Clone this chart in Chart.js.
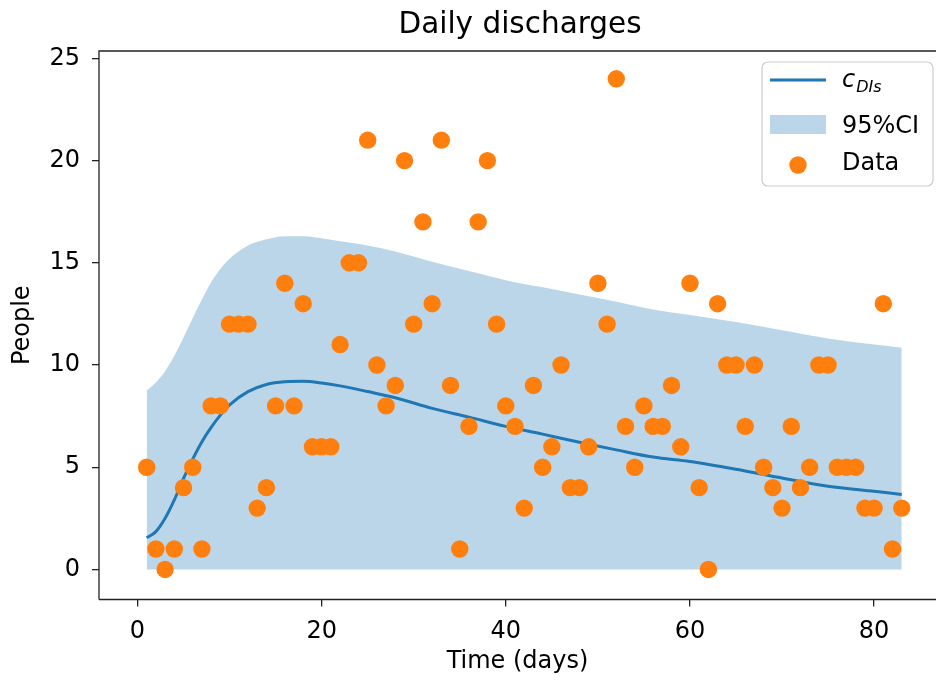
<!DOCTYPE html>
<html>
<head>
<meta charset="utf-8">
<title>Daily discharges</title>
<script src="https://cdn.jsdelivr.net/npm/chart.js@4.4.1/dist/chart.umd.min.js"></script>
<style>
  html, body { margin: 0; padding: 0; background: #fff; }
  #wrap { width: 936px; height: 682px; position: relative; }
</style>
</head>
<body>
<div id="wrap"><canvas id="chart" width="936" height="682"></canvas></div>
<script>
/* ===== Data ===== */
var days = [
   1,  2,  3,  4,  5,  6,  7,  8,  9, 10,
  11, 12, 13, 14, 15, 16, 17, 18, 19, 20,
  21, 22, 23, 24, 25, 26, 27, 28, 29, 30,
  31, 32, 33, 34, 35, 36, 37, 38, 39, 40,
  41, 42, 43, 44, 45, 46, 47, 48, 49, 50,
  51, 52, 53, 54, 55, 56, 57, 58, 59, 60,
  61, 62, 63, 64, 65, 66, 67, 68, 69, 70,
  71, 72, 73, 74, 75, 76, 77, 78, 79, 80,
  81, 82, 83
];
var discharges = [
   5,  1,  0,  1,  4,  5,  1,  8,  8, 12,
  12, 12,  3,  4,  8, 14,  8, 13,  6,  6,
   6, 11, 15, 15, 21, 10,  8,  9, 20, 12,
  17, 13, 21,  9,  1,  7, 17, 20, 12,  8,
   7,  3,  9,  5,  6, 10,  4,  4,  6, 14,
  12, 24,  7,  5,  8,  7,  7,  9,  6, 14,
   4,  0, 13, 10, 10,  7, 10,  5,  4,  3,
   7,  4,  5, 10, 10,  5,  5,  5,  3,  3,
  13,  1,  3
];

// model curve and upper 95% bound (lower bound is 0)
var modelDays = [1, 2, 3, 4, 5, 6, 7, 8, 9, 10, 12, 14, 16, 18, 20, 22, 25, 28, 32, 36, 40, 44, 48, 52, 56, 60, 65, 70, 75, 80, 83];
var modelMean = [1.55, 1.85, 2.5, 3.4, 4.45, 5.4, 6.25, 6.95, 7.55, 8.05, 8.7, 9.05, 9.18, 9.2, 9.12, 8.98, 8.7, 8.4, 7.88, 7.45, 7.0, 6.62, 6.22, 5.85, 5.5, 5.28, 4.9, 4.47, 4.07, 3.82, 3.67];
var ciUpper   = [8.75, 9.15, 9.7, 10.45, 11.35, 12.3, 13.2, 14.05, 14.7, 15.2, 15.85, 16.15, 16.3, 16.3, 16.2, 16.05, 15.85, 15.55, 15.05, 14.6, 14.15, 13.8, 13.45, 13.1, 12.72, 12.45, 12.1, 11.7, 11.3, 11.0, 10.85];

var xTicks = [0, 20, 40, 60, 80];
var yTicks = [0, 5, 10, 15, 20, 25];

/* ===== Styles ===== */
var COLORS = {
    line:  '#1f77b4',
    band:  'rgba(31,119,180,0.3)',
    dots:  '#ff7f0e',
    spine: '#222222',
    text:  '#000000'
};
var FONT_FAMILY = "'DejaVu Sans', sans-serif";
var TICK_FONT = { family: FONT_FAMILY, size: 24 };

function toPoints(xs, ys) {
    return xs.map(function (x, i) { return { x: x, y: ys[i] }; });
}

/* spines + title, drawn the matplotlib way */
var framePlugin = {
    id: 'frame',
    afterDatasetsDraw: function (chart) {
        var a = chart.chartArea, ctx = chart.ctx;
        ctx.save();
        ctx.strokeStyle = COLORS.spine;
        ctx.lineWidth = 1.3;
        ctx.beginPath();
        ctx.moveTo(a.left, a.bottom);
        ctx.lineTo(a.left, a.top);
        ctx.lineTo(a.right + 2, a.top);
        ctx.moveTo(a.left, a.bottom);
        ctx.lineTo(a.right + 2, a.bottom);
        ctx.stroke();
        ctx.fillStyle = COLORS.text;
        ctx.font = "29.5px " + FONT_FAMILY;
        ctx.textAlign = 'center';
        ctx.textBaseline = 'alphabetic';
        ctx.fillText('Daily discharges', 520, 33);
        ctx.restore();
    }
};

/* legend box with the mathtext-like c_DIs label */
var legendPlugin = {
    id: 'mplLegend',
    afterDraw: function (chart) {
        var ctx = chart.ctx;
        var bx = 762, by = 62, bw = 171, bh = 124, r = 6;
        ctx.save();
        ctx.beginPath();
        ctx.moveTo(bx + r, by);
        ctx.arcTo(bx + bw, by, bx + bw, by + bh, r);
        ctx.arcTo(bx + bw, by + bh, bx, by + bh, r);
        ctx.arcTo(bx, by + bh, bx, by, r);
        ctx.arcTo(bx, by, bx + bw, by, r);
        ctx.closePath();
        ctx.fillStyle = 'rgba(255,255,255,0.8)';
        ctx.fill();
        ctx.strokeStyle = '#cccccc';
        ctx.lineWidth = 1.2;
        ctx.stroke();

        // line sample
        ctx.strokeStyle = COLORS.line;
        ctx.lineWidth = 3;
        ctx.beginPath();
        ctx.moveTo(770, 80);
        ctx.lineTo(826, 80);
        ctx.stroke();
        // band sample
        ctx.fillStyle = COLORS.band;
        ctx.fillRect(770, 115, 56, 19);
        // dot sample
        ctx.fillStyle = COLORS.dots;
        ctx.beginPath();
        ctx.arc(798, 165, 8.7, 0, Math.PI * 2);
        ctx.fill();

        ctx.fillStyle = COLORS.text;
        ctx.textAlign = 'left';
        ctx.textBaseline = 'alphabetic';
        ctx.font = "italic 24px " + FONT_FAMILY;
        ctx.fillText('c', 842, 87);
        var cw = ctx.measureText('c').width;
        ctx.font = "italic 16px " + FONT_FAMILY;
        ctx.fillText('DIs', 842 + cw + 1, 92);
        ctx.font = "24px " + FONT_FAMILY;
        ctx.fillText('95%CI', 842, 133);
        ctx.fillText('Data', 842, 170);
        ctx.restore();
    }
};

new Chart(document.getElementById('chart'), {
    type: 'line',
    data: {
        datasets: [
            {
                label: 'Data',
                type: 'scatter',
                data: toPoints(days, discharges),
                backgroundColor: COLORS.dots,
                borderColor: COLORS.dots,
                borderWidth: 0,
                pointRadius: 8.7,
                showLine: false,
                order: 0
            },
            {
                label: 'c_DIs',
                data: toPoints(modelDays, modelMean),
                borderColor: COLORS.line,
                borderWidth: 3,
                pointRadius: 0,
                fill: false,
                cubicInterpolationMode: 'monotone',
                order: 1
            },
            {
                label: '95%CI',
                data: toPoints(modelDays, ciUpper),
                borderWidth: 0,
                borderColor: 'rgba(0,0,0,0)',
                backgroundColor: COLORS.band,
                pointRadius: 0,
                fill: 'origin',
                cubicInterpolationMode: 'monotone',
                order: 2
            }
        ]
    },
    options: {
        responsive: false,
        animation: false,
        devicePixelRatio: 1,
        layout: { autoPadding: false, padding: { top: 51, right: 0, bottom: 0, left: 0 } },
        plugins: {
            legend: { display: false },
            title: { display: false },
            tooltip: { enabled: false }
        },
        scales: {
            x: {
                type: 'linear',
                position: 'bottom',
                min: -4.18,
                max: 86.72,
                afterFit: function (s) { s.height = 82.5; },
                afterBuildTicks: function (s) { s.ticks = xTicks.map(function (v) { return { value: v }; }); },
                ticks: { font: TICK_FONT, color: COLORS.text, padding: 11, maxRotation: 0, autoSkip: false },
                grid: { display: true, drawOnChartArea: false, drawTicks: true, tickLength: 7, color: COLORS.spine, lineWidth: 1.3 },
                border: { display: false },
                title: { display: true, text: 'Time (days)', font: TICK_FONT, color: COLORS.text, padding: { top: 0, bottom: 6 } }
            },
            y: {
                type: 'linear',
                min: -1.47,
                max: 25.36,
                afterFit: function (s) { s.width = 99; },
                afterBuildTicks: function (s) { s.ticks = yTicks.map(function (v) { return { value: v }; }); },
                ticks: { font: TICK_FONT, color: COLORS.text, padding: 12, autoSkip: false },
                grid: { display: true, drawOnChartArea: false, drawTicks: true, tickLength: 7, color: COLORS.spine, lineWidth: 1.3 },
                border: { display: false },
                title: { display: true, text: 'People', font: TICK_FONT, color: COLORS.text, padding: { top: 8, bottom: 0 } }
            }
        }
    },
    plugins: [framePlugin, legendPlugin]
});
</script>
</body>
</html>
